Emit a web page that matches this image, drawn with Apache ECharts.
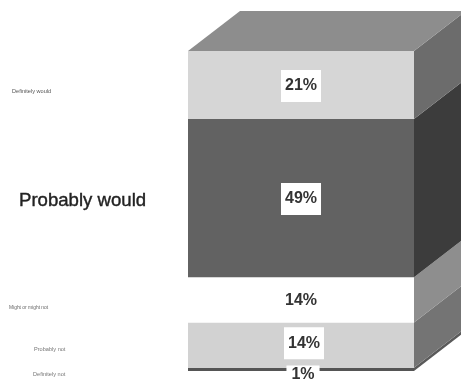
<!DOCTYPE html>
<html>
<head>
<meta charset="utf-8">
<script src="https://cdn.jsdelivr.net/npm/echarts@6/dist/echarts.min.js"></script>
<style>html,body{margin:0;padding:0;background:#fff}#c{width:461px;height:382px;filter:blur(0.45px)}</style>
</head>
<body>
<div id="c"></div>
<script>
// Bottom to top
const categories = ['Definitely not', 'Probably not', 'Might or might not', 'Probably would', 'Definitely would'];
const values = [1, 14, 14, 49, 21];
const frontColors = ['#555555', '#d2d2d2', '#ffffff', '#626262', '#d6d6d6'];
const sideColors = ['#5a5a5a', '#747474', '#8e8e8e', '#3c3c3c', '#6c6c6c'];
const topColor = '#8d8d8d';

const depthX = 52, depthY = 40;
let running = 0;
const rows = values.map((v, i) => { const r = ['Stack', running, running + v, i]; running += v; return r; });

const chart = echarts.init(document.getElementById('c'), null, {renderer: 'canvas'});

function renderItem(params, api) {
  const start = api.coord([api.value(0), api.value(1)]);
  const end = api.coord([api.value(0), api.value(2)]);
  const i = api.value(3);
  const w = api.size([1, 0])[0];
  const xL = start[0] - w / 2, xR = start[0] + w / 2;
  const yB = start[1], yT = end[1];
  const children = [
    {type: 'rect', shape: {x: xL, y: yT, width: w, height: yB - yT}, style: {fill: frontColors[i]}},
    {type: 'polygon', shape: {points: [[xR, yB], [xR + depthX, yB - depthY], [xR + depthX, yT - depthY], [xR, yT]]}, style: {fill: sideColors[i]}}
  ];
  if (i === values.length - 1) {
    children.push({type: 'polygon', shape: {points: [[xL, yT], [xL + depthX, yT - depthY], [xR + depthX, yT - depthY], [xR, yT]]}, style: {fill: topColor}});
  }
  const small = values[i] < 5;
  const low = i === 1;
  children.push({
    type: 'text',
    z2: low ? 11 : 10,
    style: {
      x: start[0] + (low ? 3 : small ? 2 : 0),
      y: (yB + yT) / 2 + (small ? 5 : low ? -2 : 1),
      text: values[i] + '%',
      align: 'center', verticalAlign: 'middle',
      font: 'bold 16px "Liberation Sans", Arial, sans-serif',
      fill: '#333333',
      backgroundColor: '#ffffff',
      padding: small ? [1, 5, 1, 5] : [8, 4, 8, 4]
    }
  });
  return {type: 'group', children};
}

function tag(text, x, y, size, color, stroke) {
  return {type: 'text', x, y, style: {text, font: size + 'px "Liberation Sans", Arial, sans-serif', fill: color, stroke: stroke ? color : null, lineWidth: stroke || 0, verticalAlign: 'middle'}};
}

chart.setOption({
  animation: false,
  backgroundColor: '#ffffff',
  grid: {left: 188, right: 47, top: 51, bottom: 11},
  xAxis: {type: 'category', data: ['Stack'], show: false},
  yAxis: {type: 'value', min: 0, max: 99, show: false},
  graphic: [
    tag(categories[4], 12, 91, 5.6, '#555555'),
    tag(categories[3], 19, 201, 18.6, '#222222', 0.4),
    tag(categories[2], 9, 308, 4.9, '#666666'),
    tag(categories[1], 34, 349, 5.6, '#777777'),
    tag(categories[0], 33, 374, 5.6, '#777777')
  ],
  series: [{
    type: 'custom',
    clip: false,
    coordinateSystem: 'cartesian2d',
    encode: {x: 0, y: [1, 2]},
    data: rows,
    renderItem
  }]
});
</script>
</body>
</html>
